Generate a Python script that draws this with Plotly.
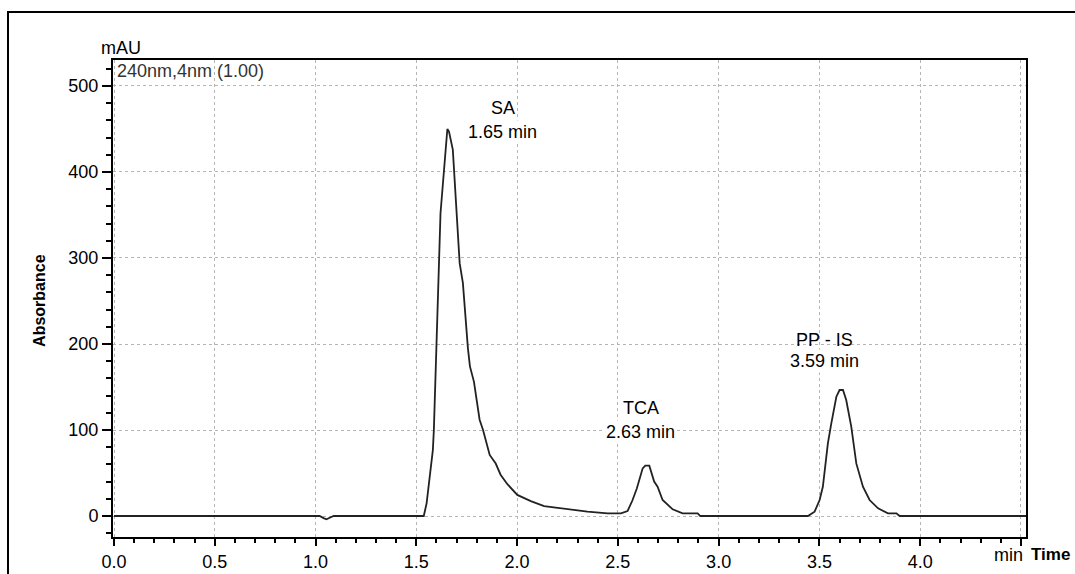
import plotly.graph_objects as go

# ---- data ----
time_min = [0.0, 1.020, 1.040, 1.054, 1.070, 1.090, 1.520, 1.537, 1.551, 1.567,
            1.582, 1.587, 1.594, 1.604, 1.620, 1.654, 1.662, 1.681, 1.715, 1.731,
            1.748, 1.756, 1.766, 1.786, 1.814, 1.831, 1.864, 1.894, 1.918, 1.952,
            2.001, 2.068, 2.134, 2.250, 2.349, 2.449, 2.515, 2.548, 2.572, 2.594,
            2.623, 2.636, 2.656, 2.680, 2.697, 2.722, 2.772, 2.821, 2.896, 2.909,
            3.443, 3.476, 3.501, 3.517, 3.542, 3.559, 3.584, 3.600, 3.617, 3.633,
            3.658, 3.683, 3.716, 3.749, 3.791, 3.840, 3.882, 3.898, 4.525]
absorbance = [0.0, 0.0, -2.5, -3.9, -2.0, 0.0, 0.0, 0.0, 14.7, 45.7,
              76.7, 100.0, 158.0, 216.0, 352.0, 450.0, 447.0, 426.0, 294.0, 271.0,
              216.0, 195.0, 174.0, 156.0, 112.0, 100.0, 71.0, 61.0, 48.0, 37.0,
              24.5, 17.4, 11.6, 7.8, 5.0, 3.1, 3.1, 5.8, 18.0, 32.0,
              55.4, 58.5, 58.5, 40.0, 34.0, 18.6, 7.8, 3.1, 3.1, 0.0,
              0.0, 5.0, 18.6, 34.0, 84.5, 107.8, 138.7, 146.5, 146.5, 134.9,
              103.9, 61.2, 34.0, 18.6, 8.9, 3.1, 3.1, 0.0, 0.0]

peak_names = ["SA", "TCA", "PP - IS"]
peak_rt = [1.65, 2.63, 3.59]

x_tick_vals = [0.0, 0.5, 1.0, 1.5, 2.0, 2.5, 3.0, 3.5, 4.0, 4.5]
x_tick_text = ["0.0", "0.5", "1.0", "1.5", "2.0", "2.5", "3.0", "3.5", "4.0", ""]
y_tick_vals = [0, 100, 200, 300, 400, 500]

FONT = "Liberation Sans, Arial, sans-serif"
FS = 18

fig = go.Figure()
fig.add_trace(go.Scatter(x=time_min, y=absorbance, mode="lines",
                         line=dict(color="#222222", width=1.8),
                         hoverinfo="x+y", showlegend=False))

# peak labels (two lines each)
label_pos = [(1.928, 474, 447), (2.614, 126, 98), (3.524, 205, 180)]
for name, rt, (lx, y1, y2) in zip(peak_names, peak_rt, label_pos):
    fig.add_annotation(x=lx, y=y1, xref="x", yref="y", text=name, showarrow=False,
                       xanchor="center", yanchor="middle",
                       font=dict(family=FONT, size=FS, color="black"))
    fig.add_annotation(x=lx, y=y2, xref="x", yref="y", text=f"{rt:.2f} min",
                       showarrow=False, xanchor="center", yanchor="middle",
                       font=dict(family=FONT, size=FS, color="black"),
                       bgcolor="white")

# static texts
fig.add_annotation(x=0.009, y=1.025, xref="paper", yref="paper", text="mAU",
                   showarrow=False, xanchor="center", yanchor="middle",
                   font=dict(family=FONT, size=FS, color="black"))
fig.add_annotation(x=0.002, y=0.976, xref="paper", yref="paper", text="240nm,4nm (1.00)",
                   showarrow=False, xanchor="left", yanchor="middle",
                   font=dict(family=FONT, size=FS, color="#333333"))
fig.add_annotation(x=-0.08, y=0.497, xref="paper", yref="paper", text="<b>Absorbance</b>",
                   showarrow=False, xanchor="center", yanchor="middle", textangle=-90,
                   font=dict(family=FONT, size=16, color="black"))
fig.add_annotation(x=0.9989, y=-0.037, xref="paper", yref="paper", text="min",
                   showarrow=False, xanchor="right", yanchor="middle",
                   font=dict(family=FONT, size=FS, color="black"))
fig.add_annotation(x=1.0035, y=-0.037, xref="paper", yref="paper", text="<b>Time</b>",
                   showarrow=False, xanchor="left", yanchor="middle",
                   font=dict(family=FONT, size=17, color="black"))

# outer frame
fig.add_shape(type="rect", xref="paper", yref="paper", x0=-0.115, x1=1.08,
              y0=-0.12, y1=1.1006, line=dict(color="black", width=2),
              fillcolor="rgba(0,0,0,0)", layer="above")

fig.update_layout(
    width=1075, height=574,
    margin=dict(l=113, r=49, t=60, b=37),
    plot_bgcolor="white", paper_bgcolor="white",
    font=dict(family=FONT, size=FS, color="black"),
    showlegend=False,
    xaxis=dict(range=[-0.005, 4.525], tickmode="array", tickvals=x_tick_vals,
               ticktext=x_tick_text, ticks="outside", ticklen=7, tickwidth=1.5,
               tickcolor="black", showline=True, linecolor="black", linewidth=2,
               mirror=True, showgrid=True, gridcolor="#b5b5b5", griddash="dot",
               gridwidth=1, zeroline=False, automargin=False,
               minor=dict(dtick=0.1, ticks="outside", ticklen=4, tickwidth=1.5,
                          tickcolor="black", showgrid=False)),
    yaxis=dict(range=[-24.4, 530.2], tickmode="array", tickvals=y_tick_vals,
               ticks="outside", ticklen=9, tickwidth=1.5, tickcolor="black",
               showline=True, linecolor="black", linewidth=2, mirror=True,
               showgrid=True, gridcolor="#b5b5b5", griddash="dot", gridwidth=1,
               zeroline=False, automargin=False,
               minor=dict(dtick=20, ticks="outside", ticklen=5, tickwidth=1.5,
                          tickcolor="black", showgrid=False)),
)

fig.write_html("out.html", config={"displayModeBar": False},
               post_script="document.body.style.margin='0';document.body.style.overflow='hidden';")
